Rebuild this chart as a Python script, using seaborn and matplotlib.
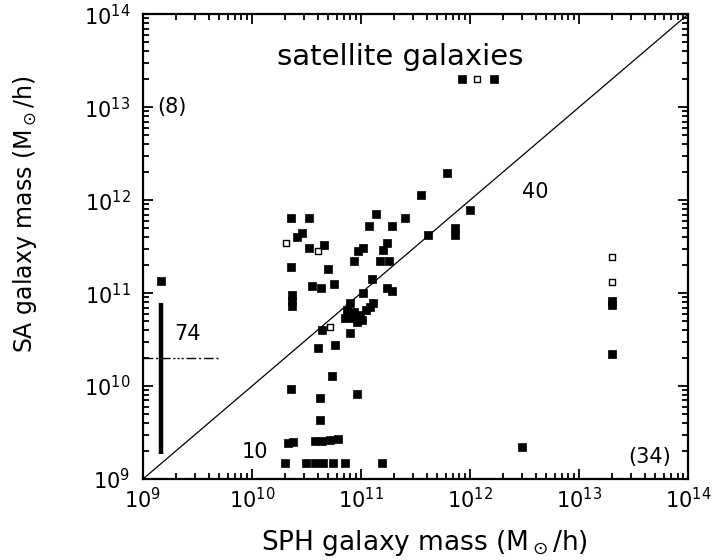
import numpy as np
import pandas as pd
import seaborn as sns
import matplotlib
matplotlib.use("Agg")
import matplotlib.pyplot as plt
from matplotlib.ticker import LogLocator, LogFormatterMathtext, NullFormatter

# log10 masses (SPH on x, SA on y)
sph_filled = [11.55, 11.79, 10.36, 10.52, 11.14, 11.40, 11.07, 11.28, 10.46, 10.41,
              10.52, 10.66, 11.02, 10.97, 11.24, 11.20, 10.94, 11.17, 11.26, 10.36,
              10.70, 11.10, 10.55, 10.63, 10.75, 11.24, 11.28, 10.37, 10.37, 10.37,
              11.02, 10.90, 11.11, 10.87, 10.94, 10.99, 10.92, 11.01, 10.85, 11.05,
              10.96, 11.08, 10.64, 10.90, 10.61, 10.76, 10.73, 10.36, 10.96, 10.62,
              10.62, 10.38, 10.33, 10.58, 10.64, 10.72, 10.79, 10.30, 10.50, 10.58,
              10.65, 10.74, 10.85, 11.19, 11.61, 12.00, 11.86, 11.86, 13.30, 13.30,
              13.30, 12.48, 9.17, 11.93, 12.22]
sa_filled = [12.05, 12.29, 11.81, 11.81, 11.85, 11.81, 11.72, 11.72, 11.65, 11.60,
             11.49, 11.52, 11.48, 11.45, 11.54, 11.46, 11.34, 11.35, 11.35, 11.28,
             11.26, 11.15, 11.08, 11.05, 11.10, 11.06, 11.02, 10.98, 10.92, 10.86,
             11.00, 10.89, 10.89, 10.82, 10.80, 10.76, 10.73, 10.71, 10.73, 10.82,
             10.69, 10.85, 10.60, 10.57, 10.41, 10.44, 10.11, 9.97, 9.92, 9.87,
             9.63, 9.40, 9.39, 9.41, 9.41, 9.42, 9.43, 9.17, 9.17, 9.17,
             9.17, 9.17, 9.17, 9.17, 11.62, 11.89, 11.70, 11.63, 10.92, 10.87,
             10.34, 9.34, 11.13, 13.30, 13.30]

sph_open = [10.31, 10.61, 10.72, 13.30, 13.30, 12.06]
sa_open = [11.54, 11.45, 10.63, 11.39, 11.12, 13.30]

# scatter bar on the left (range of SA masses, median marked dash-dot)
bar_x = 9.17
bar_lo, bar_hi = 9.27, 10.89
bar_median = 10.30

df_filled = pd.DataFrame({"sph": 10 ** np.array(sph_filled), "sa": 10 ** np.array(sa_filled)})
df_open = pd.DataFrame({"sph": 10 ** np.array(sph_open), "sa": 10 ** np.array(sa_open)})

sns.set_style("ticks")
plt.rcParams["font.family"] = ["DejaVu Sans"]
plt.rcParams["text.color"] = "black"
plt.rcParams["axes.labelcolor"] = "black"

fig = plt.figure(figsize=(7.22, 5.60), dpi=100)
ax = fig.add_axes([0.198, 0.1446, 0.755, 0.830])

ax.set_xscale("log")
ax.set_yscale("log")
ax.set_xlim(1e9, 1e14)
ax.set_ylim(1e9, 1e14)

# one-to-one line
ax.plot([1e9, 1e14], [1e9, 1e14], color="black", lw=0.9)

sns.scatterplot(data=df_filled, x="sph", y="sa", ax=ax, marker="s", s=34,
                color="black", edgecolor="black", linewidth=0.5, legend=False)
sns.scatterplot(data=df_open, x="sph", y="sa", ax=ax, marker="s", s=18,
                facecolor="white", edgecolor="black", linewidth=1.0, legend=False)

ax.plot([10 ** bar_x, 10 ** bar_x], [10 ** bar_lo, 10 ** bar_hi], color="black", lw=3.2,
        solid_capstyle="butt")
ax.plot([1e9, 10 ** 9.69], [10 ** bar_median, 10 ** bar_median], color="black", lw=1.0,
        dashes=(7, 2, 1.5, 2, 7, 2, 1.5, 1.5, 1.5, 1.5, 1.5, 2))

txt = dict(fontsize=15, color="black")
ax.text(10 ** 11.36, 10 ** 13.54, "satellite galaxies", ha="center", va="center",
        fontsize=21, color="black")
ax.text(10 ** 9.13, 10 ** 13.0, "(8)", ha="left", va="center", **txt)
ax.text(10 ** 12.48, 10 ** 12.09, "40", ha="left", va="center", **txt)
ax.text(10 ** 9.29, 10 ** 10.56, "74", ha="left", va="center", **txt)
ax.text(10 ** 9.91, 10 ** 9.29, "10", ha="left", va="center", **txt)
ax.text(10 ** 13.84, 10 ** 9.24, "(34)", ha="right", va="center", **txt)

for axis in (ax.xaxis, ax.yaxis):
    axis.set_major_locator(LogLocator(base=10, numticks=10))
    axis.set_minor_locator(LogLocator(base=10, subs=np.arange(2, 10), numticks=100))
    axis.set_major_formatter(LogFormatterMathtext())
    axis.set_minor_formatter(NullFormatter())

ax.tick_params(which="both", direction="in", top=True, right=True, width=1.3, colors="black")
ax.tick_params(which="major", length=7, labelsize=15)
ax.tick_params(axis="x", which="major", pad=6)
ax.tick_params(axis="y", which="major", pad=9)
ax.tick_params(which="minor", length=4)
for sp in ax.spines.values():
    sp.set_linewidth(1.6)
    sp.set_color("black")

ax.set_xlabel(r"SPH galaxy mass (M$_\odot$/h)", fontsize=19, va="center", color="black")
ax.set_ylabel(r"SA galaxy mass (M$_\odot$/h)", fontsize=17, va="center", color="black")
ax.xaxis.set_label_coords(0.516, -0.138)
ax.yaxis.set_label_coords(-0.217, 0.57)

fig.savefig("out.png", dpi=100)
